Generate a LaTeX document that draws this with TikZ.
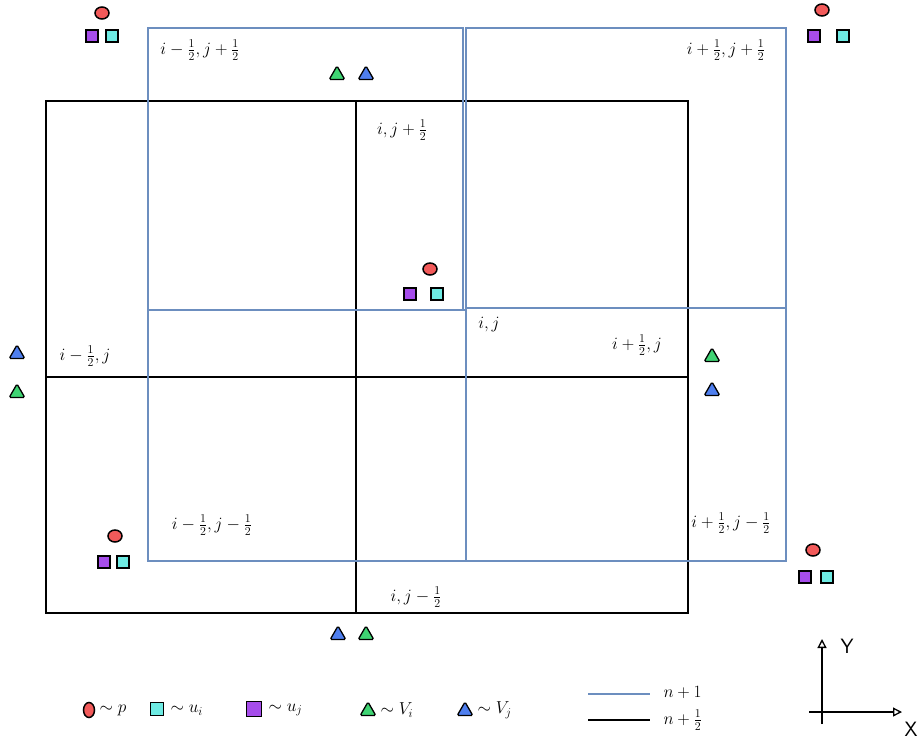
\documentclass[tikz,border=0pt]{standalone}
\usepackage{amsmath,amssymb}
\usepackage{xcolor}
\usepackage{tikz}
\usetikzlibrary{shapes.geometric,arrows.meta}

\definecolor{gridblue}{HTML}{6C8EBF}
\definecolor{pred}{HTML}{F25A5A}
\definecolor{uicyan}{HTML}{6EEBE3}
\definecolor{ujpurple}{HTML}{A64DEB}
\definecolor{vigreen}{HTML}{3FD473}
\definecolor{vjblue}{HTML}{4F7FEF}

\tikzset{
  pnode/.style={ellipse,draw=black,line width=1.5pt,fill=pred,minimum width=14pt,minimum height=12pt,inner sep=0pt},
  uinode/.style={rectangle,draw=black,line width=1.5pt,fill=uicyan,minimum size=12pt,inner sep=0pt},
  ujnode/.style={rectangle,draw=black,line width=1.5pt,fill=ujpurple,minimum size=12pt,inner sep=0pt},
  vinode/.style={regular polygon,regular polygon sides=3,draw=black,line width=1.3pt,fill=vigreen,minimum size=18pt,inner sep=0pt,rounded corners=1.5pt},
  vjnode/.style={regular polygon,regular polygon sides=3,draw=black,line width=1.3pt,fill=vjblue,minimum size=18pt,inner sep=0pt,rounded corners=1.5pt},
  celllabel/.style={text=black,inner sep=1pt}
}

\begin{document}
\begin{tikzpicture}[x=1pt,y=-1pt,font=\LARGE]

\useasboundingbox (0,0) rectangle (920,744);

% ---------- n+1/2 grid ----------
\draw[black,line width=1.5pt] (46,101) rectangle (688,613);
\draw[black,line width=1.5pt] (356,101) -- (356,613);
\draw[black,line width=1.5pt] (46,377) -- (688,377);

% ---------- n+1 grid ----------
\foreach \xa/\ya/\xb/\yb in {148/28/463/310, 466/28/786/308, 148/310/466/561, 466/308/786/561}{
    \draw[gridblue,line width=2pt] (\xa,\ya) rectangle (\xb,\yb);
}

% ---------- cell labels ----------
\node[celllabel] (lbmp) at (200,50) {$i-\frac{1}{2},j+\frac{1}{2}$};
\node[celllabel] (lbpp) at (726,50) {$i+\frac{1}{2},j+\frac{1}{2}$};
\node[celllabel] (lbzp) at (402,130) {$i,j+\frac{1}{2}$};
\node[celllabel] (lbzz) at (489,325) {$i,j$};
\node[celllabel] (lbpz) at (637,345) {$i+\frac{1}{2},j$};
\node[celllabel] (lbmz) at (85,356) {$i-\frac{1}{2},j$};
\node[celllabel] (lbmm) at (212,525) {$i-\frac{1}{2},j-\frac{1}{2}$};
\node[celllabel] (lbpm) at (731,523) {$i+\frac{1}{2},j-\frac{1}{2}$};
\node[celllabel] (lbzm) at (416,597) {$i,j-\frac{1}{2}$};

% ---------- p, u_i, u_j ----------
\foreach \n/\px/\py/\ax/\bx/\qy in {tl/102/13/92/112/36, tr/822/10/814/843/36, md/430/269/410/437/294, bl/115/536/104/123/562, br/813/550/805/827/577}{
    \node[pnode] (p\n) at (\px,\py) {};
    \node[ujnode] (uj\n) at (\ax,\qy) {};
    \node[uinode] (ui\n) at (\bx,\qy) {};
}

% ---------- V_i, V_j ----------
\node[vinode] (vitop) at (337,75) {};
\node[vjnode] (vjtop) at (366,75) {};
\node[vjnode] (vjleft) at (17,354) {};
\node[vinode] (vileft) at (17,393) {};
\node[vinode] (viright) at (712,357) {};
\node[vjnode] (vjright) at (712,391) {};
\node[vjnode] (vjbot) at (338,635) {};
\node[vinode] (vibot) at (366,635) {};

% ---------- legend ----------
\node[pnode,minimum width=11pt,minimum height=15pt] (legp) at (89,710) {};
\node[anchor=west] (legptext) at (96,710) {$\sim p$};
\node[uinode,minimum size=13pt] (legui) at (157,709) {};
\node[anchor=west] (leguitext) at (167,710) {$\sim u_i$};
\node[ujnode,minimum size=15pt] (leguj) at (254,709) {};
\node[anchor=west] (legujtext) at (265,710) {$\sim u_j$};
\node[vinode] (legvi) at (368,711) {};
\node[anchor=west] (legvitext) at (377,710) {$\sim V_i$};
\node[vjnode] (legvj) at (465,711) {};
\node[anchor=west] (legvjtext) at (474,710) {$\sim V_j$};

\coordinate (lnba) at (588,694);
\coordinate (lnbb) at (650,694);
\coordinate (lnka) at (588,720);
\coordinate (lnkb) at (650,720);
\draw[gridblue,line width=1.2pt] (lnba) -- (lnbb);
\draw[black,line width=1.2pt] (lnka) -- (lnkb);
\node[anchor=west] (legn1) at (660,692) {$n+1$};
\node[anchor=west] (legnh) at (660,720) {$n+\frac{1}{2}$};

% ---------- axes ----------
\coordinate (xstart) at (809,712);
\coordinate (xend) at (902,712);
\coordinate (ystart) at (822,724);
\coordinate (yend) at (822,639);
\draw[black,line width=1.3pt,-{Triangle[open,length=9pt,width=9pt]}] (xstart) -- (xend);
\draw[black,line width=1.3pt,-{Triangle[open,length=9pt,width=9pt]}] (ystart) -- (yend);
\node[font=\huge\sffamily] (ylab) at (847,646) {Y};
\node[font=\huge\sffamily] (xlab) at (911,729) {X};

\end{tikzpicture}
\end{document}
